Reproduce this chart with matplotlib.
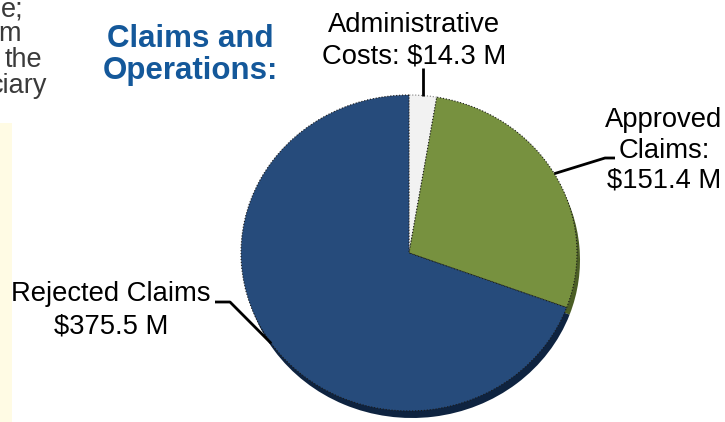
import numpy as np
import matplotlib
matplotlib.use("Agg")
import matplotlib.pyplot as plt

plt.rcParams["font.family"] = ["Liberation Sans", "DejaVu Sans"]

# data
slice_names = ["Administrative Costs", "Approved Claims", "Rejected Claims"]
slice_values = [14.3, 151.4, 375.5]
slice_colors = ["#F2F2F2", "#77913F", "#264B7B"]
shadow_colors = ["#9A9A9A", "#4B5E25", "#0E2340"]
label_lines = [
    ["Administrative", "Costs: $14.3 M"],
    ["Approved", "Claims:", "$151.4 M"],
    ["Rejected Claims", "$375.5 M"],
]
title_lines = ["Claims and", "Operations:"]
cut_text = ["e;", "m", "the", "ciary"]

W, H = 725, 422
fig = plt.figure(figsize=(W / 100, H / 100), dpi=100)

# pie geometry in pixels (ellipse, slightly tilted look)
cx, cy, rx, ry = 409, 253, 168, 158

ax = fig.add_axes([(cx - rx) / W, 1 - (cy + ry) / H, 2 * rx / W, 2 * ry / H])
# shadow copy, shifted down/right
ax.pie(slice_values, colors=shadow_colors, startangle=90, counterclock=False,
       center=(3 / rx, -7 / ry), radius=1.0,
       wedgeprops=dict(linewidth=0))
wedges, _ = ax.pie(slice_values, colors=slice_colors, startangle=90,
                   counterclock=False, radius=1.0,
                   wedgeprops=dict(linewidth=0.8, edgecolor="#1a1a1a",
                                   linestyle=":"))
wedges[0].set_edgecolor("#7f7f7f")
ax.set_aspect("auto")
ax.set_xlim(-1, 1)
ax.set_ylim(-1, 1)
ax.axis("off")

# overlay in pixel coordinates for text and leader lines
ov = fig.add_axes([0, 0, 1, 1], zorder=5)
ov.set_xlim(0, W)
ov.set_ylim(H, 0)
ov.axis("off")
ov.patch.set_alpha(0)

# left pale box
ov.add_patch(plt.Rectangle((0, 123), 12, 300, facecolor="#FFFBE4",
                           edgecolor="none"))

# cut off paragraph on the left (it is cropped in the source too)
for txt, xr, yb in zip(cut_text, [24, 21, 42, 47], [17, 41, 67, 93]):
    ov.text(xr, yb, txt, ha="right", va="baseline", fontsize=19.5,
            color="#3a3a3a")

# title
for txt, yb in zip(title_lines, [47, 79]):
    ov.text(190, yb, txt, ha="center", va="baseline", fontsize=22.5,
            fontweight="bold", color="#14589A")

# slice labels
total = sum(slice_values)
start = 90.0
mids = []
for v in slice_values:
    sweep = 360.0 * v / total
    mids.append(np.deg2rad(start - sweep / 2))
    start -= sweep

label_x = [414, 664, 111]
label_y = [[32, 63], [127, 158, 188], [301, 333]]
for lines, lx, ys in zip(label_lines, label_x, label_y):
    for txt, yb in zip(lines, ys):
        ov.text(lx, yb, txt, ha="center", va="baseline", fontsize=19.7,
                color="black")

# leader lines: from wedge midpoint on the rim to the label
elbows = [
    [(None, 68)],
    [(605, 158), (615, 158)],
    [(230, 302), (215, 302)],
]
for ang, pts in zip(mids, elbows):
    ax_pt = (cx + rx * np.cos(ang), cy - ry * np.sin(ang))
    xs = [ax_pt[0]]
    ys = [ax_pt[1]]
    for px, py in pts:
        xs.append(ax_pt[0] if px is None else px)
        ys.append(py)
    ov.plot(xs, ys, color="black", linewidth=2.0, solid_capstyle="butt")

fig.savefig("out.png", dpi=100)
